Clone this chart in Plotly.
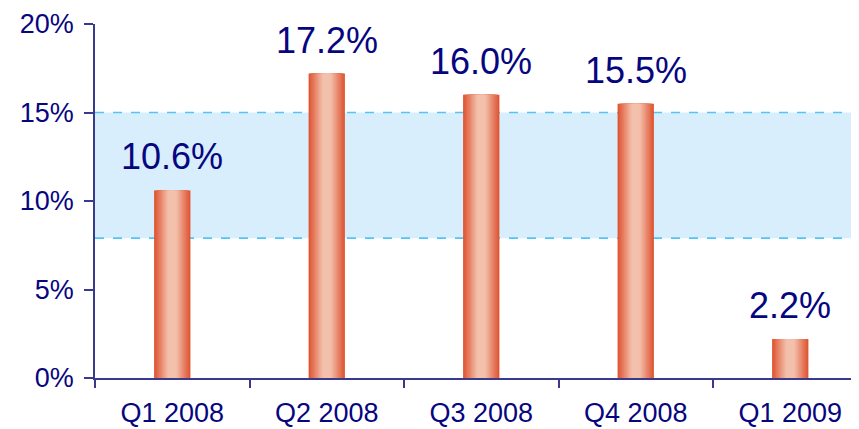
import plotly.graph_objects as go

categories = ["Q1 2008", "Q2 2008", "Q3 2008", "Q4 2008", "Q1 2009"]
values = [10.6, 17.2, 16.0, 15.5, 2.2]
labels = ["10.6%", "17.2%", "16.0%", "15.5%", "2.2%"]
y_ticks = [0, 5, 10, 15, 20]
y_tick_labels = ["0%", "5%", "10%", "15%", "20%"]
band_low = 7.9
band_high = 15.0

NAVY = "#06067F"
AXIS = "#3A3A8C"

fig = go.Figure()

dark = (222, 86, 52)
light = (243, 192, 172)
n_layers = 14
bar_w = 0.235
for k in range(n_layers):
    t = k / (n_layers - 1)
    t2 = min(1.0, t * 1.25)
    c = tuple(int(dark[i] + (light[i] - dark[i]) * t2) for i in range(3))
    w = bar_w * (1 - k / n_layers)
    fig.add_trace(go.Bar(
        x=categories, y=values, width=w,
        marker=dict(color="rgb(%d,%d,%d)" % c, line=dict(width=0)),
        hoverinfo="skip", showlegend=False,
    ))

fig.update_layout(barmode="overlay")

fig.add_shape(type="rect", xref="paper", yref="y", x0=0, x1=1, y0=band_low, y1=band_high,
              fillcolor="#D8EEFC", line=dict(width=0), layer="below")
for yv in (band_low, band_high):
    fig.add_shape(type="line", xref="paper", yref="y", x0=0, x1=1, y0=yv, y1=yv,
                  line=dict(color="#55C4F5", width=1.6, dash="dash"), layer="below")

for c, v, lab in zip(categories, values, labels):
    fig.add_annotation(x=c, y=v, text=lab, showarrow=False, yanchor="bottom",
                       yshift=11, font=dict(size=36, color=NAVY, family="Liberation Sans, Arial"))

fig.update_layout(
    width=851, height=421,
    margin=dict(l=87, r=0, t=16, b=51, autoexpand=False),
    plot_bgcolor="white", paper_bgcolor="white",
    font=dict(family="Liberation Sans, Arial", color=NAVY),
    xaxis=dict(
        range=[-0.5, 4.445], showgrid=False, showline=True, linecolor=AXIS, linewidth=1.5,
        ticks="outside", tickson="boundaries", ticklen=8, tickcolor=AXIS, tickwidth=1.5,
        tickfont=dict(size=27, color=NAVY), zeroline=False, ticklabelstandoff=10,
    ),
    yaxis=dict(
        range=[0, 20], tickvals=y_ticks, ticktext=y_tick_labels, showgrid=False,
        showline=True, linecolor=AXIS, linewidth=1.5, ticks="outside", ticklen=9,
        tickcolor=AXIS, tickwidth=1.5, tickfont=dict(size=27, color=NAVY), zeroline=False,
        ticklabelstandoff=5,
    ),
)

fig.write_html("out.html")
